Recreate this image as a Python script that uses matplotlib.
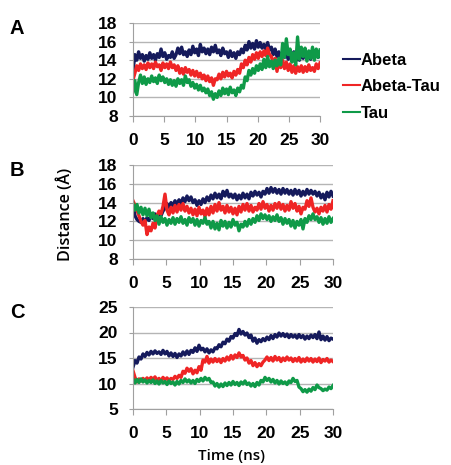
import numpy as np
import matplotlib
matplotlib.use("Agg")
import matplotlib.pyplot as plt

plt.rcParams['font.family'] = ['Liberation Sans', 'DejaVu Sans']

# time axis (ns), 0.3 ns steps
time_ns = np.linspace(0, 30, 101)

# ---- panel A ----
a_abeta = [12.8, 14.6, 14.0, 14.9, 14.2, 14.6, 13.9, 14.5, 14.1, 14.8,
           14.2, 14.6, 14.0, 14.7, 14.3, 15.2, 14.4, 14.8, 14.1, 14.5,
           14.3, 14.9, 14.2, 14.6, 15.3, 14.7, 15.4, 14.6, 14.9, 14.4,
           15.1, 14.6, 15.5, 14.8, 15.2, 14.5, 15.7, 14.9, 15.3, 14.7,
           15.2, 14.6, 15.4, 14.9, 15.6, 14.8, 15.1, 14.5, 15.3, 14.7,
           14.9, 14.3, 15.0, 14.4, 14.8, 14.2, 14.9, 14.6, 15.2, 14.8,
           15.6, 15.1, 16.0, 15.3, 15.8, 15.2, 16.1, 15.4, 15.9, 15.3,
           15.7, 15.2, 15.9, 15.1, 15.4, 14.6, 15.2, 14.4, 14.9, 14.2,
           14.8, 14.3, 15.0, 14.1, 14.7, 14.2, 14.9, 13.9, 14.6, 14.0,
           14.8, 14.2, 15.0, 14.3, 14.7, 14.1, 14.9, 14.4, 15.1, 14.3, 14.6]
a_abtau = [11.9, 12.6, 13.4, 12.9, 13.6, 13.1, 13.5, 13.0, 13.7, 13.2,
           13.6, 13.1, 13.8, 13.3, 13.5, 12.9, 13.7, 13.2, 13.6, 13.1,
           13.8, 13.2, 13.5, 12.9, 13.4, 12.6, 13.1, 12.5, 13.2, 12.7,
           13.0, 12.4, 12.9, 12.3, 12.8, 12.2, 12.6, 12.0, 12.4, 11.8,
           12.3, 11.7, 12.1, 11.3, 12.0, 11.9, 12.5, 12.0, 12.7, 12.2,
           12.8, 12.3, 12.6, 12.1, 12.8, 12.4, 13.0, 12.6, 13.6, 13.2,
           14.0, 13.5, 14.3, 13.8, 14.6, 14.1, 14.8, 14.2, 14.9, 14.4,
           15.0, 14.5, 15.3, 14.6, 14.4, 13.6, 14.2, 12.8, 13.9, 13.2,
           14.0, 13.1, 13.8, 12.9, 13.6, 12.7, 13.4, 12.6, 13.3, 12.8,
           13.4, 12.7, 13.3, 12.8, 13.5, 12.9, 13.2, 12.8, 13.6, 13.1, 13.7]
a_tau = [10.6, 11.8, 10.3, 11.6, 12.4, 11.5, 12.2, 11.4, 12.0, 11.6,
         12.3, 11.7, 12.1, 11.5, 12.4, 11.8, 12.2, 11.6, 12.0, 11.4,
         11.9, 11.3, 11.8, 11.2, 12.0, 11.5, 11.9, 11.3, 12.3, 11.6,
         11.9, 11.2, 11.6, 11.0, 11.4, 10.8, 11.3, 10.7, 11.0, 10.5,
         10.9, 10.2, 10.6, 9.8, 10.4, 10.0, 10.7, 10.2, 11.0, 10.4,
         10.9, 10.3, 11.1, 10.5, 10.8, 10.2, 11.0, 10.6, 11.3, 11.0,
         12.2, 11.8, 12.9, 12.4, 13.1, 12.6, 13.4, 12.9, 13.6, 13.0,
         14.1, 13.2, 14.4, 13.3, 13.9, 13.1, 14.0, 13.4, 14.2, 13.5,
         15.8, 14.3, 16.3, 14.6, 15.2, 13.8, 14.8, 13.5, 16.5, 14.1,
         15.4, 14.4, 15.3, 13.9, 15.0, 14.2, 15.4, 14.0, 15.2, 14.3, 15.1]

# ---- panel B ----
b_abeta = [13.8, 12.6, 12.2, 12.0, 11.9, 12.3, 11.9, 12.4, 12.1, 12.6,
           12.3, 12.8, 12.4, 12.9, 12.6, 13.1, 13.4, 13.9, 13.5, 14.0,
           13.7, 14.2, 13.8, 14.3, 13.9, 14.5, 14.1, 14.7, 14.2, 14.6,
           14.0, 14.3, 13.7, 14.2, 13.8, 14.4, 14.0, 14.6, 14.2, 14.8,
           14.4, 15.0, 14.5, 14.9, 14.4, 15.2, 14.7, 15.3, 14.6, 14.9,
           14.5, 14.9, 14.3, 14.8, 14.4, 15.0, 14.5, 14.9, 14.4, 15.1,
           14.7, 15.2, 14.8, 15.1, 14.6, 15.2, 14.9, 15.5, 15.0, 15.6,
           15.1, 15.5, 15.0, 15.4, 14.9, 15.5, 15.0, 15.4, 14.9, 15.3,
           14.8, 15.4, 14.9, 15.3, 14.7, 15.2, 14.8, 15.4, 14.9, 15.3,
           14.9, 15.2, 14.7, 15.1, 14.5, 14.9, 14.3, 15.1, 14.6, 15.2, 14.7]
b_abtau = [14.2, 13.7, 13.2, 12.6, 12.0, 11.6, 12.1, 10.6, 11.4, 11.0,
           11.8, 11.3, 12.6, 13.1, 12.8, 13.6, 14.9, 13.2, 12.7, 13.5,
           12.9, 13.7, 13.0, 13.8, 13.2, 13.9, 13.1, 13.6, 12.9, 13.4,
           12.7, 13.3, 12.6, 13.5, 12.8, 13.2, 12.5, 13.4, 12.7, 13.6,
           12.9, 13.8, 13.1, 14.0, 13.2, 13.6, 12.9, 13.7, 13.0, 13.5,
           12.8, 13.4, 12.7, 13.6, 13.0, 13.8, 13.2, 13.9, 13.1, 13.7,
           13.0, 13.5, 13.2, 13.9, 13.3, 14.1, 13.4, 13.8, 13.1, 13.7,
           13.2, 13.9, 13.4, 14.0, 13.3, 13.8, 13.1, 13.7, 13.2, 14.1,
           13.4, 13.9, 13.1, 13.6, 12.8, 13.5, 13.3, 14.2, 13.6, 14.5,
           13.5, 13.0, 13.4, 12.8, 13.5, 13.1, 13.7, 13.0, 13.8, 13.3, 14.2]
b_tau = [13.9, 13.2, 13.8, 12.9, 13.5, 12.7, 13.4, 12.6, 13.3, 12.4,
         12.9, 12.1, 12.6, 11.7, 12.5, 11.9, 12.3, 11.6, 12.2, 11.8,
         12.4, 11.7, 12.3, 11.9, 12.5, 11.8, 12.2, 11.6, 12.4, 11.9,
         12.3, 11.6, 12.2, 11.5, 12.1, 11.8, 12.4, 11.7, 12.0, 11.3,
         12.0, 11.2, 11.8, 11.1, 12.1, 11.5, 12.0, 11.3, 11.9, 11.4,
         12.2, 11.6, 11.9, 11.0, 11.7, 11.4, 12.0, 11.5, 12.2, 11.7,
         12.3, 11.9, 12.6, 12.1, 12.8, 12.3, 12.7, 12.2, 12.6, 12.0,
         12.5, 12.1, 12.7, 12.0, 12.4, 11.7, 12.3, 11.8, 12.2, 11.5,
         12.1, 11.3, 12.0, 11.6, 12.2, 11.2, 12.3, 11.9, 12.6, 12.2,
         12.8, 12.2, 12.5, 11.9, 12.4, 11.7, 12.3, 11.8, 12.5, 11.9, 12.3]

# ---- panel C ----
c_abeta = [13.2, 14.5, 14.0, 15.2, 14.8, 15.8, 15.3, 16.1, 15.6, 16.3,
           15.8, 16.4, 15.9, 16.2, 15.7, 16.5, 15.8, 16.3, 15.4, 16.0,
           15.3, 15.9, 15.1, 15.8, 15.4, 16.2, 15.6, 16.4, 15.7, 16.5,
           16.1, 17.0, 16.3, 17.5, 16.6, 16.9, 16.2, 16.8, 16.0, 16.6,
           16.2, 17.0, 16.8, 17.6, 17.2, 18.1, 17.8, 18.7, 18.3, 19.2,
           18.9, 19.8, 19.4, 20.6, 19.7, 20.2, 19.5, 19.9, 19.0, 19.5,
           18.3, 18.9, 17.9, 18.6, 18.2, 18.8, 18.4, 19.1, 18.6, 19.4,
           18.8, 19.6, 19.1, 19.9, 19.3, 19.8, 19.2, 19.7, 19.0, 19.6,
           19.1, 19.5, 18.9, 19.6, 19.0, 19.4, 18.7, 19.3, 18.8, 19.5,
           19.0, 19.6, 18.8, 20.1, 18.6, 19.3, 18.5, 19.2, 18.4, 18.9, 18.7]
c_abtau = [12.5, 11.2, 10.3, 10.9, 10.5, 11.0, 10.6, 11.1, 10.7, 11.2,
           10.8, 11.3, 10.6, 11.0, 10.5, 11.2, 10.7, 11.1, 10.6, 11.0,
           10.8, 11.4, 11.0, 11.6, 11.2, 12.4, 12.0, 13.0, 12.4, 12.9,
           11.9, 12.6, 12.1, 13.3, 12.6, 14.6, 14.2, 15.3, 14.0, 14.8,
           14.2, 14.9, 14.3, 14.8, 14.1, 14.9, 14.4, 15.2, 14.6, 15.5,
           14.8, 15.6, 15.1, 16.0, 15.2, 15.5, 14.6, 15.0, 14.0, 14.5,
           13.5, 14.1, 13.3, 13.9, 13.5, 14.2, 14.6, 15.2, 14.5, 15.1,
           14.4, 15.3, 14.6, 15.1, 14.3, 15.0, 14.5, 15.2, 14.6, 15.0,
           14.3, 14.9, 14.4, 15.1, 14.2, 14.8, 14.3, 15.0, 14.4, 14.9,
           14.2, 14.8, 14.3, 15.0, 14.1, 14.7, 14.4, 14.9, 14.2, 14.6, 14.3]
c_tau = [10.9, 10.1, 10.8, 10.2, 10.9, 10.3, 10.7, 10.1, 10.6, 10.2,
         10.7, 10.0, 10.5, 9.9, 10.6, 10.1, 10.4, 9.8, 10.5, 10.0,
         10.3, 9.7, 10.4, 9.9, 10.6, 10.2, 10.9, 10.3, 10.7, 10.1,
         10.6, 10.0, 10.8, 10.4, 11.0, 10.5, 11.2, 10.7, 11.0, 10.2,
         10.3, 9.5, 10.0, 9.3, 9.9, 9.4, 10.1, 9.6, 10.2, 9.7,
         10.4, 9.8, 10.2, 9.6, 10.3, 9.9, 10.5, 9.8, 10.1, 9.5,
         10.0, 9.4, 10.2, 9.7, 10.6, 10.3, 11.2, 10.6, 11.0, 10.3,
         10.8, 10.1, 10.6, 9.9, 10.5, 10.0, 10.3, 9.8, 10.5, 10.2,
         11.0, 10.4, 10.6, 9.3, 9.0, 8.4, 8.8, 8.3, 8.9, 8.5,
         9.2, 8.8, 9.7, 9.2, 9.0, 8.6, 8.9, 8.7, 9.3, 9.0, 9.6]

series_names = ['Abeta', 'Abeta-Tau', 'Tau']
colors = ['#151a5c', '#ef2525', '#0f9a48']

panels = [
    ('A', [a_abeta, a_abtau, a_tau], [8, 18], [8, 10, 12, 14, 16, 18],
     [133, 23, 320, 116]),
    ('B', [b_abeta, b_abtau, b_tau], [8, 18], [8, 10, 12, 14, 16, 18],
     [133, 165, 333, 259]),
    ('C', [c_abeta, c_abtau, c_tau], [5, 25], [5, 10, 15, 20, 25],
     [133, 307, 333, 409]),
]

W, H = 451, 465
fig = plt.figure(figsize=(W / 100, H / 100), dpi=100)

axes = []
for letter, data, ylim, yticks, box in panels:
    l, t, r, b = box
    ax = fig.add_axes([l / W, 1 - b / H, (r - l) / W, (b - t) / H])
    for vals, c, name in zip(data, colors, series_names):
        ax.plot(time_ns, vals, color=c, lw=2.4, label=name)
    ax.set_xlim(0, 30)
    ax.set_ylim(ylim)
    ax.set_yticks(yticks)
    ax.set_xticks([0, 5, 10, 15, 20, 25, 30])
    ax.yaxis.grid(True, color='#b5b5b5', lw=1)
    ax.set_axisbelow(True)
    for s in ['top', 'right']:
        ax.spines[s].set_visible(False)
    for s in ['left', 'bottom']:
        ax.spines[s].set_color('#a0a0a0')
    ax.tick_params(axis='x', length=4, color='#a0a0a0', pad=8,
                   labelsize=12.5)
    ax.tick_params(axis='y', length=3, color='#a0a0a0', pad=8,
                   labelsize=12.5)
    for lab in ax.get_xticklabels() + ax.get_yticklabels():
        lab.set_fontweight('bold')
    fig.text(17 / W, 1 - (t + 6) / H, letter, fontsize=14.5, fontweight='bold',
             ha='center', va='center')
    axes.append(ax)

leg = axes[0].legend(loc='upper left', bbox_to_anchor=(343 / W, 1 - 53 / H),
                     bbox_transform=fig.transFigure, frameon=False,
                     borderpad=0, borderaxespad=0,
                     handlelength=1.0, handletextpad=0.05, labelspacing=0.68,
                     prop={'weight': 'bold', 'size': 12})
for h in leg.get_lines():
    h.set_linewidth(1.5)

fig.text(66 / W, 1 - 214 / H, 'Distance (Å)', rotation=90, ha='center',
         va='center', fontsize=11.7, fontweight='semibold',
         family=['Open Sans', 'DejaVu Sans'])
fig.text(231 / W, 1 - 456 / H, 'Time (ns)', ha='center', va='center',
         fontsize=11, fontweight='semibold',
         family=['Open Sans', 'DejaVu Sans'])

fig.savefig('out.png', dpi=100)
